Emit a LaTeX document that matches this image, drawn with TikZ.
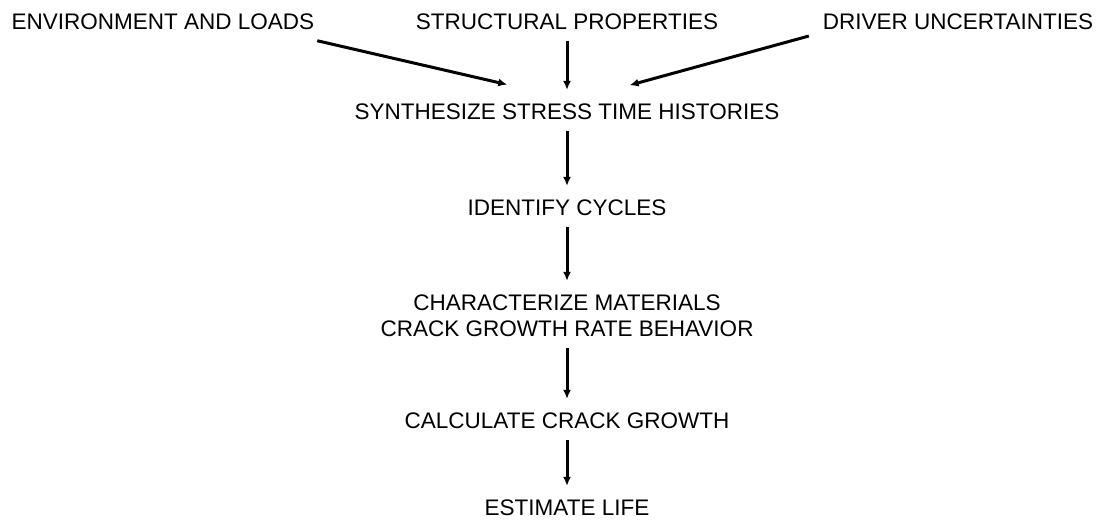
\documentclass[tikz,border=0pt]{standalone}
\usepackage{fontspec}
\setmainfont{Liberation Sans}
\usepackage{tikz}
\usetikzlibrary{arrows.meta,positioning,calc}

\begin{document}
\begin{tikzpicture}[x=1pt,y=-1pt,
  lbl/.style={inner sep=4pt,align=center,font=\fontsize{22.5}{26}\selectfont},
  flow/.style={-{Latex[length=9pt,width=8pt]},line width=3pt,shorten <=7pt,shorten >=10pt}]
  \useasboundingbox (0,0) rectangle (1099,523);
  \node[lbl] (env) at (163,22) {ENVIRONMENT AND LOADS};
  \node[lbl] (struct) at (567,22) {STRUCTURAL PROPERTIES};
  \node[lbl] (driver) at (958,22) {DRIVER UNCERTAINTIES};
  \node[lbl] (synth) at (567,112) {SYNTHESIZE STRESS TIME HISTORIES};
  \node[lbl] (ident) at (567,208) {IDENTIFY CYCLES};
  \node[lbl] (charact) at (567,316) {CHARACTERIZE MATERIALS\\CRACK GROWTH RATE BEHAVIOR};
  \node[lbl] (calc) at (567,421) {CALCULATE CRACK GROWTH};
  \node[lbl] (est) at (567,508) {ESTIMATE LIFE};
  \draw[flow] ([xshift=-8pt,yshift=-5pt]env.south east) -- ([xshift=-50pt,yshift=13pt]synth.north);
  \draw[flow] (struct.south) -- (synth.north);
  \draw[flow] ([xshift=-3pt]driver.south west) -- ([xshift=53pt,yshift=12pt]synth.north);
  \draw[flow] (synth) -- (ident);
  \draw[flow] (ident) -- (charact);
  \draw[flow] (charact) -- (calc);
  \draw[flow] (calc) -- (est);
\end{tikzpicture}
\end{document}
